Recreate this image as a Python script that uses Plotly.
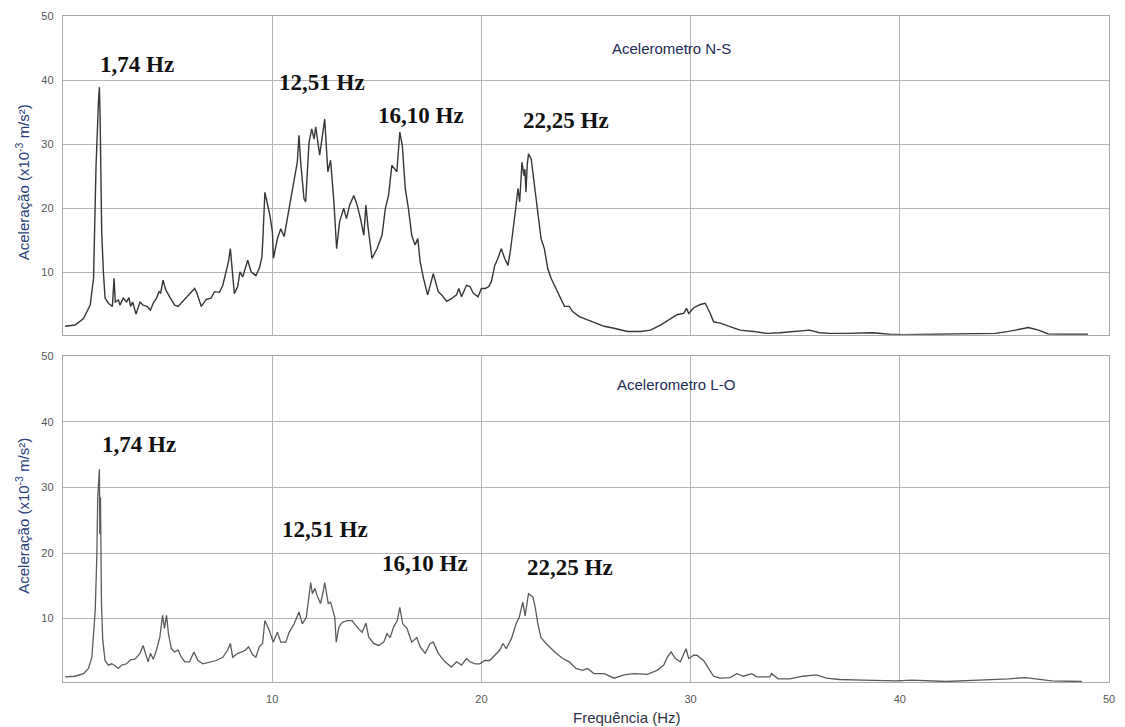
import plotly.graph_objects as go

# ---- Spectrum, N-S accelerometer (frequency in Hz, acceleration in 1e-3 m/s²) ----
freq_ns = [0.10, 0.58, 0.98, 1.30, 1.46, 1.54, 1.58, 1.70, 1.74, 1.77, 1.81, 1.85, 1.93, 2.01,
           2.17, 2.36, 2.44, 2.50, 2.65, 2.72, 2.88, 3.04, 3.15, 3.23, 3.33, 3.49, 3.68, 3.83,
           4.02, 4.18, 4.31, 4.47, 4.59, 4.67, 4.78, 4.91, 5.10, 5.34, 5.50, 5.73, 5.97, 6.13,
           6.29, 6.40, 6.61, 6.85, 7.08, 7.24, 7.48, 7.64, 7.80, 7.91, 8.00, 8.08, 8.19, 8.35,
           8.46, 8.59, 8.72, 8.83, 8.99, 9.22, 9.38, 9.51, 9.57, 9.65, 9.73, 9.89, 10.01, 10.06,
           10.25, 10.41, 10.57, 10.81, 11.01, 11.20, 11.28, 11.36, 11.52, 11.60, 11.76, 11.89,
           12.00, 12.08, 12.27, 12.43, 12.51, 12.66, 12.79, 12.95, 13.08, 13.22, 13.42, 13.55,
           13.70, 13.90, 14.06, 14.22, 14.38, 14.48, 14.58, 14.77, 15.01, 15.25, 15.41, 15.56,
           15.72, 15.96, 16.03, 16.10, 16.22, 16.36, 16.51, 16.67, 16.83, 16.96, 17.07, 17.23,
           17.43, 17.70, 17.94, 18.10, 18.34, 18.57, 18.81, 18.92, 19.05, 19.29, 19.45, 19.61,
           19.84, 20.00, 20.19, 20.35, 20.48, 20.64, 20.79, 20.95, 21.11, 21.27, 21.40, 21.51,
           21.64, 21.75, 21.83, 21.94, 22.03, 22.08, 22.13, 22.19, 22.25, 22.38, 22.52, 22.70,
           22.85, 23.01, 23.17, 23.33, 23.49, 23.73, 23.97, 24.20, 24.36, 24.68, 25.07, 25.47,
           25.87, 26.34, 26.98, 27.61, 28.08, 28.56, 28.96, 29.35, 29.67, 29.80, 29.91, 30.15,
           30.46, 30.70, 30.94, 31.10, 31.41, 31.89, 32.36, 33.00, 33.63, 34.27, 35.20, 35.69,
           36.17, 36.64, 37.44, 38.71, 39.50, 40.13, 41.72, 43.46, 44.57, 45.20, 46.15, 46.63,
           47.10, 47.58, 49.00]
acc_ns = [1.6, 1.8, 2.8, 4.9, 9.1, 19.4, 26.7, 37.0, 38.9, 35.0, 25.7, 16.3, 10.1, 6.0,
          5.2, 4.7, 9.1, 5.4, 5.7, 4.9, 6.0, 5.4, 6.1, 4.7, 5.4, 3.5, 5.4, 4.9,
          4.7, 4.1, 5.2, 6.0, 7.0, 6.8, 8.8, 7.3, 6.2, 4.9, 4.7, 5.5, 6.4, 7.0,
          7.5, 6.8, 4.7, 5.8, 6.0, 7.0, 6.9, 8.0, 10.1, 11.7, 13.7, 10.6, 6.7, 7.8,
          10.1, 9.3, 10.9, 11.9, 10.1, 9.5, 10.6, 12.4, 16.3, 22.5, 21.3, 18.9, 16.3, 12.2,
          15.3, 16.8, 15.6, 20.0, 23.6, 27.2, 31.4, 27.2, 21.5, 21.0, 30.3, 32.4,
          30.8, 32.7, 28.3, 31.9, 33.9, 25.7, 27.5, 21.0, 13.7, 17.9, 20.0, 18.4,
          20.5, 22.0, 20.5, 18.4, 15.8, 20.5, 17.1, 12.2, 13.7, 15.8, 20.0, 22.0,
          26.7, 25.7, 29.3, 31.9, 29.8, 23.1, 20.0, 15.8, 14.3, 15.3, 11.7, 9.1,
          6.5, 9.8, 7.0, 6.5, 5.5, 5.9, 6.5, 7.5, 6.2, 8.0, 7.8, 6.8,
          6.2, 7.5, 7.5, 7.8, 8.6, 11.1, 12.2, 13.7, 12.2, 11.1, 13.7, 16.3,
          20.0, 23.1, 21.0, 27.2, 25.1, 26.1, 22.5, 26.7, 28.5, 27.7, 24.1, 20.0,
          15.3, 13.7, 10.6, 9.1, 8.0, 6.5, 4.7, 4.7, 3.9, 3.1, 2.6, 2.1,
          1.6, 1.3, 0.8, 0.8, 1.0, 1.8, 2.6, 3.4, 3.6, 4.4, 3.6, 4.5,
          5.0, 5.2, 3.6, 2.3, 2.1, 1.6, 1.0, 0.8, 0.5, 0.6, 0.8, 1.0,
          0.6, 0.5, 0.5, 0.6, 0.35, 0.3, 0.35, 0.4, 0.5, 0.8, 1.4, 1.0,
          0.4, 0.35, 0.35]

# ---- Spectrum, L-O accelerometer ----
freq_lo = [0.10, 0.58, 0.98, 1.22, 1.38, 1.54, 1.62, 1.66, 1.74, 1.76, 1.79, 1.84, 1.90, 2.01,
           2.17, 2.33, 2.49, 2.64, 2.81, 3.04, 3.23, 3.44, 3.68, 3.83, 3.96, 4.07, 4.18, 4.31,
           4.47, 4.63, 4.76, 4.85, 4.95, 5.04, 5.18, 5.34, 5.50, 5.66, 5.82, 6.05, 6.26, 6.45,
           6.69, 7.00, 7.32, 7.64, 7.87, 8.00, 8.11, 8.35, 8.56, 8.72, 8.87, 9.06, 9.22, 9.38,
           9.54, 9.65, 9.78, 9.86, 10.05, 10.25, 10.41, 10.65, 10.81, 11.05, 11.28, 11.44,
           11.63, 11.73, 11.84, 11.92, 12.04, 12.15, 12.31, 12.43, 12.51, 12.68, 12.79, 12.99,
           13.06, 13.19, 13.34, 13.58, 13.82, 14.06, 14.30, 14.48, 14.61, 14.85, 15.09, 15.33,
           15.49, 15.64, 15.80, 15.98, 16.10, 16.24, 16.44, 16.67, 16.91, 17.07, 17.31, 17.55,
           17.70, 17.94, 18.26, 18.57, 18.81, 19.05, 19.29, 19.45, 19.69, 19.92, 20.16, 20.40,
           20.64, 20.88, 21.03, 21.19, 21.43, 21.66, 21.81, 21.98, 22.09, 22.19, 22.25, 22.46,
           22.57, 22.70, 22.85, 23.09, 23.33, 23.57, 23.89, 24.20, 24.52, 24.84, 25.07, 25.38,
           25.87, 26.34, 26.82, 27.29, 27.93, 28.40, 28.72, 28.88, 29.07, 29.27, 29.51, 29.67,
           29.78, 29.91, 30.15, 30.30, 30.62, 30.86, 31.10, 31.41, 31.89, 32.21, 32.52, 32.92,
           33.16, 33.79, 33.87, 34.19, 34.74, 35.38, 36.01, 36.49, 37.12, 38.23, 39.81, 40.60,
           42.20, 43.78, 44.57, 45.20, 46.00, 46.79, 47.27, 48.70]
acc_lo = [1.1, 1.2, 1.6, 2.4, 4.1, 11.2, 19.9, 28.5, 32.8, 22.9, 28.5, 12.3, 6.7, 3.6,
          2.9, 3.1, 2.8, 2.4, 2.9, 3.1, 3.7, 3.8, 4.7, 5.9, 4.5, 3.4, 4.7, 3.8,
          5.2, 7.2, 10.5, 8.5, 10.5, 7.7, 5.4, 4.9, 5.2, 4.1, 3.4, 3.4, 4.9, 3.6,
          3.1, 3.4, 3.6, 4.1, 5.2, 6.2, 4.1, 4.7, 4.9, 5.2, 5.7, 4.5, 4.1, 5.7,
          6.2, 9.7, 8.9, 8.2, 6.4, 7.9, 6.4, 6.4, 7.9, 9.2, 11.0, 9.2,
          10.2, 12.8, 15.5, 13.8, 14.6, 13.5, 12.3, 14.0, 15.5, 12.3, 12.5, 10.2,
          6.4, 8.7, 9.4, 9.7, 9.7, 8.7, 7.9, 9.3, 7.2, 6.2, 5.9, 6.4,
          7.7, 7.1, 8.7, 9.7, 11.7, 9.2, 8.5, 6.4, 7.1, 5.7, 4.7, 6.2,
          6.4, 4.7, 3.4, 2.6, 3.4, 2.9, 3.9, 3.4, 3.1, 3.1, 3.6, 3.6,
          4.4, 5.2, 6.2, 5.4, 6.9, 9.2, 10.2, 12.5, 10.4, 12.3, 13.8, 13.3,
          11.8, 9.2, 7.1, 6.2, 5.4, 4.7, 3.9, 3.4, 2.4, 2.1, 2.4, 1.6,
          1.6, 0.9, 1.4, 1.6, 1.5, 2.1, 2.9, 4.1, 4.9, 3.9, 3.4, 4.7,
          5.4, 3.9, 4.4, 4.4, 3.6, 2.4, 1.2, 0.9, 1.0, 1.6, 1.2, 1.6,
          1.1, 1.1, 1.6, 0.8, 0.8, 1.2, 1.4, 0.9, 0.7, 0.6, 0.5, 0.6,
          0.4, 0.6, 0.7, 0.8, 1.0, 0.7, 0.5, 0.4]

# ---- Peak labels: text and label position per panel ----
peak_text = ["1,74 Hz", "12,51 Hz", "16,10 Hz", "22,25 Hz"]
peak_x_ns = [3.56, 12.36, 17.11, 24.05]
peak_y_ns = [42.4, 39.6, 34.5, 33.7]
peak_x_lo = [3.61, 12.50, 17.31, 24.24]
peak_y_lo = [36.6, 23.6, 18.4, 17.8]

x_ticks = [10, 20, 30, 40, 50]
y_ticks = [10, 20, 30, 40, 50]

panel_titles = ["Acelerometro N-S", "Acelerometro L-O"]
y_title = "Aceleração (x10<sup>-3</sup> m/s²)"
x_title = "Frequência (Hz)"

GRID = "#b5b5b5"
FRAME = "#a8a8a8"
SANS = "Liberation Sans, Arial"
SERIF = "Liberation Serif, Times New Roman"
TICKFONT = dict(family=SANS, size=11, color="#555555")
NAVY = "#1d2c57"

fig = go.Figure()
fig.add_trace(go.Scatter(x=freq_ns, y=acc_ns, mode="lines",
                         line=dict(color="#363636", width=1.4),
                         xaxis="x", yaxis="y", showlegend=False))
fig.add_trace(go.Scatter(x=freq_lo, y=acc_lo, mode="lines",
                         line=dict(color="#5a5a5a", width=1.3),
                         xaxis="x2", yaxis="y2", showlegend=False))

common_x = dict(range=[0, 50], tickvals=x_ticks, showgrid=True, gridcolor=GRID, gridwidth=1.4,
                zeroline=False, showline=True, linecolor=FRAME, linewidth=1.4, mirror=True,
                ticks="outside", ticklen=6, tickcolor="rgba(0,0,0,0)", tickfont=TICKFONT)
common_y = dict(range=[0.27, 50], tickvals=y_ticks, showgrid=True, gridcolor=GRID, gridwidth=1.4,
                zeroline=False, showline=True, linecolor=FRAME, linewidth=1.4, mirror=True,
                ticks="outside", ticklen=6, tickcolor="rgba(0,0,0,0)", tickfont=TICKFONT)

annotations = []
for xref, yref, xs, ys in (("x", "y", peak_x_ns, peak_y_ns), ("x2", "y2", peak_x_lo, peak_y_lo)):
    for txt, x, y in zip(peak_text, xs, ys):
        annotations.append(dict(text="<b>" + txt + "</b>", x=x, y=y, xref=xref, yref=yref,
                                showarrow=False, xanchor="center", yanchor="middle",
                                font=dict(family=SERIF, size=23, color="#111111")))


def paper_text(text, x, y, size, color, angle=0):
    return dict(text=text, x=x, y=y, xref="paper", yref="paper", showarrow=False,
                xanchor="center", yanchor="middle", textangle=angle,
                font=dict(family=SANS, size=size, color=color))


annotations += [
    paper_text(panel_titles[0], 0.582, 0.952, 15, NAVY),
    paper_text(panel_titles[1], 0.586, 0.448, 15, NAVY),
    paper_text(y_title, -0.039, 0.751, 15, "#27407a", angle=-90),
    paper_text(y_title, -0.039, 0.251, 15, "#27407a", angle=-90),
    paper_text(x_title, 0.539, -0.051, 15, "#2c3248"),
]

fig.update_layout(
    width=1125, height=727,
    margin=dict(l=63, r=10, t=13, b=44),
    paper_bgcolor="white", plot_bgcolor="white",
    xaxis=dict(domain=[0, 1], anchor="y", showticklabels=False, **common_x),
    yaxis=dict(domain=[0.522, 1.0], anchor="x", **common_y),
    xaxis2=dict(domain=[0, 1], anchor="y2", showticklabels=True, **common_x),
    yaxis2=dict(domain=[0.001, 0.4896], anchor="x2", **common_y),
    annotations=annotations,
)

fig.write_html("out.html")
